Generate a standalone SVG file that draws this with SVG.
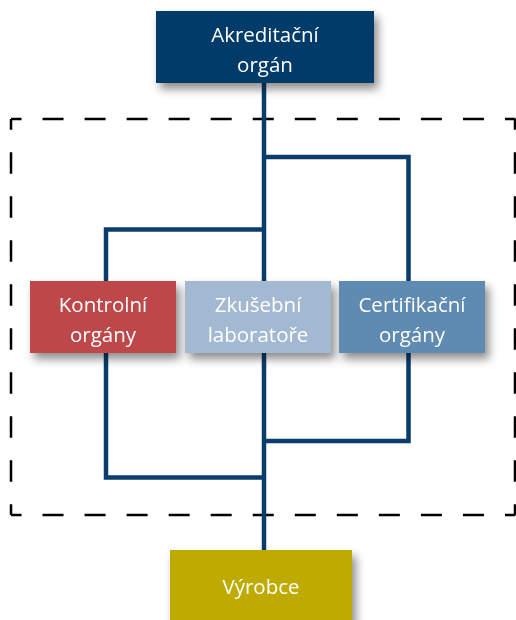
<svg xmlns="http://www.w3.org/2000/svg" width="516" height="620" viewBox="0 0 516 620">
<defs>
<filter id="sh" x="-20%" y="-30%" width="150%" height="170%">
<feDropShadow dx="4" dy="6" stdDeviation="5" flood-color="#000" flood-opacity="0.45"/>
</filter>
</defs>
<style>
.dash{stroke:#000;stroke-width:2.5;fill:none}
.h{stroke-dasharray:21 21.04;stroke-dashoffset:10.5}
.v{stroke-dasharray:21.5 22.5;stroke-dashoffset:10.75}
.con{stroke:#0A3D6B;stroke-width:4.5;fill:none;stroke-linejoin:miter}
.box{filter:url(#sh)}
.t{font-family:"Open Sans","Noto Sans",sans-serif;font-size:20.5px;fill:#fff;text-anchor:middle}
</style>
<rect width="516" height="620" fill="#fff"/>
<g id="frame">
<line class="dash h" x1="11" y1="119" x2="515.5" y2="119"/>
<line class="dash h" x1="11" y1="515" x2="515.5" y2="515"/>
<line class="dash v" x1="11" y1="119" x2="11" y2="515"/>
<line class="dash v" x1="515" y1="119" x2="515" y2="515"/>
</g>
<g id="connectors">
<line class="con" x1="264" y1="80" x2="264" y2="552"/>
<polyline class="con" points="264,157 408.5,157 408.5,441 264,441"/>
<polyline class="con" points="264,229.5 106,229.5 106,477.5 264,477.5"/>
</g>
<g id="akreditacni" class="box">
<rect x="156" y="11" width="218" height="72" fill="#003B6A"/>
<text class="t" x="265" y="41.7">Akreditační</text>
<text class="t" x="265" y="71.7">orgán</text>
</g>
<g id="kontrolni" class="box">
<rect x="30" y="281" width="146" height="72" fill="#BE4748"/>
<text class="t" x="103" y="311.7">Kontrolní</text>
<text class="t" x="103" y="341.7">orgány</text>
</g>
<g id="zkusebni" class="box">
<rect x="185" y="281" width="146" height="72" fill="#A3B9D1"/>
<text class="t" x="258" y="311.7">Zkušební</text>
<text class="t" x="258" y="341.7">laboratoře</text>
</g>
<g id="certifikacni" class="box">
<rect x="339" y="281" width="146" height="72" fill="#5F8AB1"/>
<text class="t" x="412" y="311.7">Certifikační</text>
<text class="t" x="412" y="341.7">orgány</text>
</g>
<g id="vyrobce" class="box">
<rect x="170" y="550" width="182" height="76" fill="#BFAB00"/>
<text class="t" x="261" y="594">Výrobce</text>
</g>
</svg>
